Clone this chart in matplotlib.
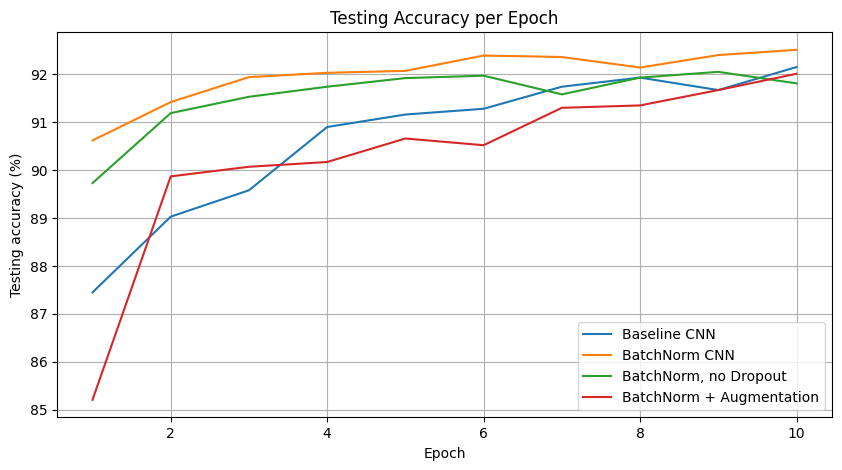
import numpy as np
import matplotlib.pyplot as plt

epochs = list(range(1, 11))
baseline_cnn = [87.45, 89.03, 89.58, 90.90, 91.16, 91.28, 91.74, 91.93, 91.67, 92.15]
batchnorm_cnn = [90.62, 91.42, 91.94, 92.03, 92.07, 92.39, 92.36, 92.14, 92.40, 92.51]
batchnorm_no_dropout = [89.73, 91.19, 91.53, 91.74, 91.92, 91.97, 91.58, 91.93, 92.05, 91.81]
batchnorm_aug = [85.21, 89.87, 90.07, 90.17, 90.66, 90.52, 91.30, 91.35, 91.67, 92.01]

fig = plt.figure(figsize=(8.42, 4.7), dpi=100)
ax = fig.add_subplot(111)
fig.subplots_adjust(left=57.3 / 842, right=831.7 / 842, bottom=1 - 417.3 / 470, top=1 - 32.3 / 470)

ax.plot(epochs, baseline_cnn, label="Baseline CNN")
ax.plot(epochs, batchnorm_cnn, label="BatchNorm CNN")
ax.plot(epochs, batchnorm_no_dropout, label="BatchNorm, no Dropout")
ax.plot(epochs, batchnorm_aug, label="BatchNorm + Augmentation")

ax.set_title("Testing Accuracy per Epoch")
ax.set_xlabel("Epoch")
ax.set_ylabel("Testing accuracy (%)")
ax.legend(loc="lower right")
ax.grid(True)

plt.savefig("out.png", dpi=100)
